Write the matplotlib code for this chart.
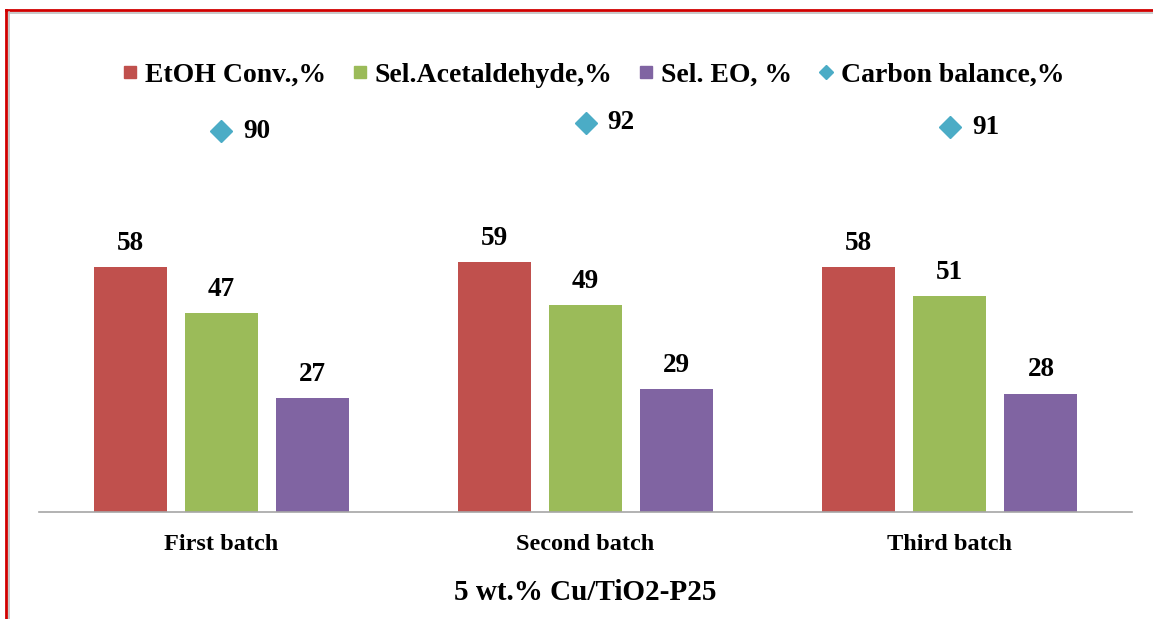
import numpy as np
import matplotlib.pyplot as plt
from matplotlib.lines import Line2D

plt.rcParams['font.family'] = ['Liberation Serif', 'DejaVu Serif']
plt.rcParams['font.weight'] = 'bold'

batches = ['First batch', 'Second batch', 'Third batch']
etoh_conv = [58, 59, 58]
sel_acetaldehyde = [47, 49, 51]
sel_eo = [27, 29, 28]
carbon_balance = [90, 92, 91]

series_names = ['EtOH Conv.,%', 'Sel.Acetaldehyde,%', 'Sel. EO, %']
series_colors = ['#C0504D', '#9BBB59', '#8064A2']
diamond_color = '#4BACC6'

W, H = 1153, 619
fig = plt.figure(figsize=(W / 100, H / 100), dpi=100)
ax = fig.add_axes([39 / W, (H - 512) / H, 1093 / W, 423 / H])

x = np.arange(len(batches))
width = 0.2
offsets = [-0.25, 0.0, 0.25]
for vals, off, col in zip([etoh_conv, sel_acetaldehyde, sel_eo], offsets, series_colors):
    bars = ax.bar(x + off, vals, width, color=col)
    for b, v in zip(bars, vals):
        ax.annotate(str(v), (b.get_x() + b.get_width() / 2, v),
                    xytext=(0, 8), textcoords='offset points',
                    ha='center', va='bottom', fontsize=19.5, fontweight='bold')

ax.plot(x, carbon_balance, linestyle='none', marker='D', markersize=11,
        color=diamond_color)
for xi, v in zip(x, carbon_balance):
    ax.annotate(str(v), (xi, v), xytext=(16, 0), textcoords='offset points',
                ha='left', va='center', fontsize=19.5, fontweight='bold')

ax.set_xlim(-0.5, 2.5)
ax.set_ylim(0, 100)
ax.set_xticks(x)
ax.set_xticklabels(batches, fontsize=17.5, fontweight='bold')
ax.tick_params(axis='x', length=0, pad=16)
ax.set_yticks([])
for s in ['left', 'right', 'top']:
    ax.spines[s].set_visible(False)
ax.spines['bottom'].set_color('#A6A6A6')
ax.spines['bottom'].set_linewidth(1.2)

ax.set_xlabel('5 wt.% Cu/TiO2-P25', fontsize=21, fontweight='bold', labelpad=17)

handles = [Line2D([], [], linestyle='none', marker='s', markersize=9, color=c)
           for c in series_colors]
handles.append(Line2D([], [], linestyle='none', marker='D', markersize=7,
                      color=diamond_color))
fig.legend(handles, series_names + ['Carbon balance,%'], loc='center',
           bbox_to_anchor=(593 / W, (H - 75) / H), ncol=4, frameon=False,
           prop={'size': 20, 'weight': 'bold'}, handlelength=0.6,
           handletextpad=0.25, columnspacing=0.9)

# frame edges along the left and top
fig.add_artist(Line2D([6 / W, 6 / W], [0, 1 - 10 / H], color='#D00000', lw=2))
fig.add_artist(Line2D([6 / W, 1], [1 - 10 / H, 1 - 10 / H], color='#D00000', lw=2))
fig.add_artist(Line2D([9 / W, 9 / W], [0, 1 - 12 / H], color='#BFBFBF', lw=1.2))
fig.add_artist(Line2D([9 / W, 1], [1 - 12.5 / H, 1 - 12.5 / H], color='#BFBFBF', lw=1.2))

fig.savefig('out.png', dpi=100)
